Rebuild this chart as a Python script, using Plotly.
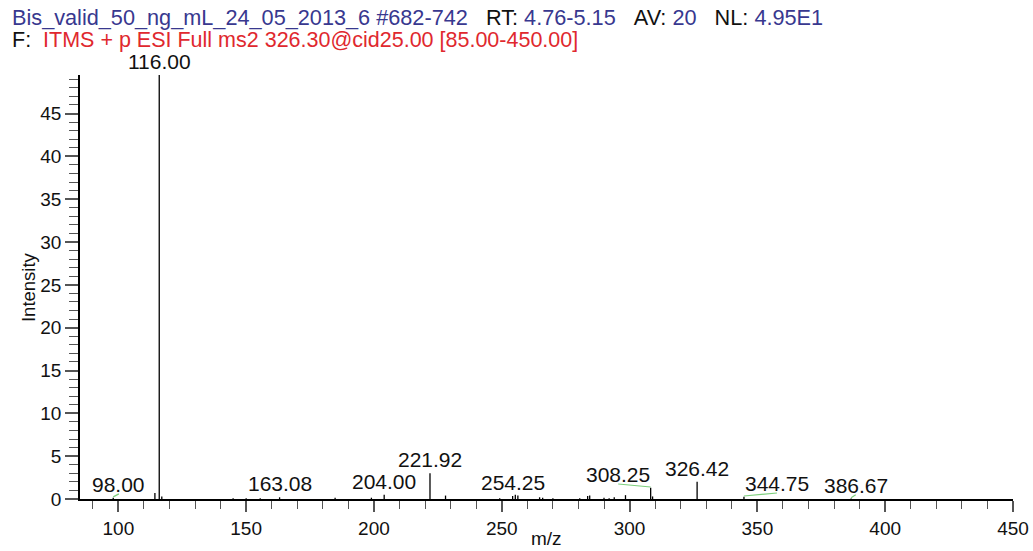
import plotly.graph_objects as go

# ---- data ----
peak_mz = [98.00, 114.3, 116.00, 117.0, 144.9, 150.0, 155.5, 163.08, 184.8, 199.0,
           204.00, 221.92, 228.0, 249.2, 254.25, 255.3, 256.3, 264.8, 266.0, 270.0,
           280.5, 283.6, 284.4, 290.0, 292.0, 294.0, 298.4, 308.25, 309.0, 326.42,
           344.75, 386.67]
peak_int = [0.15, 0.7, 49.5, 0.3, 0.1, 0.1, 0.1, 0.2, 0.15, 0.15,
            0.5, 3.0, 0.4, 0.1, 0.35, 0.5, 0.4, 0.2, 0.15, 0.1,
            0.1, 0.35, 0.4, 0.15, 0.1, 0.2, 0.45, 1.3, 0.3, 2.0,
            0.25, 0.05]

label_mz = [116.00, 98.00, 163.08, 204.00, 221.92, 254.25, 308.25, 326.42, 344.75, 386.67]
label_int = [49.5, 0.15, 0.2, 0.5, 3.0, 0.35, 1.3, 2.0, 0.25, 0.05]
# horizontal shift of the label (m/z units) and whether a green connector is drawn
label_dx = [0, 2.2, 0, 0, 0, 0, -12.7, 0, 12.9, 1.8]
label_link = [False, True, False, False, False, False, True, False, True, True]

x_ticks = [100, 150, 200, 250, 300, 350, 400, 450]
y_ticks = [0, 5, 10, 15, 20, 25, 30, 35, 40, 45]

BLUE = "#38388f"
RED = "#e0282e"
INK = "#111"
header1 = (f'<span style="color:{BLUE}">Bis_valid_50_ng_mL_24_05_2013_6 #682-742</span>'
           f'\u00a0\u00a0\u00a0<span style="color:{INK}">RT:</span> <span style="color:{BLUE}">4.76-5.15</span>'
           f'\u00a0\u00a0\u00a0<span style="color:{INK}">AV:</span> <span style="color:{BLUE}">20</span>'
           f'\u00a0\u00a0\u00a0<span style="color:{INK}">NL:</span> <span style="color:{BLUE}">4.95E1</span>')
header2 = (f'<span style="color:{INK}">F:</span>\u00a0 '
           f'<span style="color:{RED}">ITMS + p ESI Full ms2 326.30@cid25.00 [85.00-450.00]</span>')

FONT = "Liberation Sans, Arial, sans-serif"

fig = go.Figure()

# stick spectrum built from the peak arrays
xs, ys = [], []
for m, i in zip(peak_mz, peak_int):
    xs += [m, m, None]
    ys += [0, i, None]
fig.add_trace(go.Scatter(x=xs, y=ys, mode="lines",
                         line=dict(color="black", width=1.3),
                         hoverinfo="skip", showlegend=False))

# green connectors from shifted labels to their peaks
gx, gy = [], []
for m, i, dx, link in zip(label_mz, label_int, label_dx, label_link):
    if link:
        gx += [m, m + dx, None]
        gy += [i + 0.1, i + 0.45, None]
fig.add_trace(go.Scatter(x=gx, y=gy, mode="lines",
                         line=dict(color="#7ccf7c", width=1.2),
                         hoverinfo="skip", showlegend=False))

annotations = []
for m, i, dx in zip(label_mz, label_int, label_dx):
    annotations.append(dict(x=m + dx, y=i, xref="x", yref="y", text=f"{m:.2f}",
                            showarrow=False, xanchor="center", yanchor="bottom",
                            yshift=0, font=dict(family=FONT, size=21, color=INK)))

annotations.append(dict(x=-0.075, y=1.135, xref="paper", yref="paper", text=header1,
                        showarrow=False, xanchor="left", yanchor="middle",
                        font=dict(family=FONT, size=21.7)))
annotations.append(dict(x=-0.075, y=1.082, xref="paper", yref="paper", text=header2,
                        showarrow=False, xanchor="left", yanchor="middle",
                        font=dict(family=FONT, size=21.5)))
# axis titles
annotations.append(dict(x=0.5, y=-0.1215, xref="paper", yref="paper", text="m/z",
                        showarrow=False, xanchor="center", yanchor="bottom",
                        font=dict(family=FONT, size=19, color=INK)))
annotations.append(dict(x=-0.0557, y=0.5, xref="paper", yref="paper", text="Intensity",
                        showarrow=False, xanchor="center", yanchor="middle", textangle=-90,
                        font=dict(family=FONT, size=18.5, color=INK)))

fig.update_layout(
    width=1033, height=551,
    margin=dict(l=80, r=20, t=75, b=52),
    paper_bgcolor="white", plot_bgcolor="white",
    annotations=annotations,
    font=dict(family=FONT, size=19, color=INK),
)
fig.update_xaxes(range=[85, 450], tickvals=x_ticks, ticks="outside", ticklen=11,
                 tickcolor="#555", tickwidth=1.5, automargin=False,
                 minor=dict(dtick=10, tick0=0, ticks="outside", ticklen=8, tickcolor="#555", tickwidth=1.2),
                 showline=True, linecolor="black", linewidth=1.5, showgrid=False, zeroline=False,
                 tickfont=dict(family=FONT, size=19, color=INK))
fig.update_yaxes(range=[0, 49.5], tickvals=y_ticks, ticks="outside", ticklen=13,
                 tickcolor="#555", tickwidth=1.5, automargin=False,
                 minor=dict(dtick=1, tick0=0, ticks="outside", ticklen=9, tickcolor="#555", tickwidth=1.2),
                 showline=True, linecolor="black", linewidth=1.5, showgrid=False, zeroline=False,
                 tickfont=dict(family=FONT, size=19, color=INK))

fig.write_html("out.html", config={"displayModeBar": False},
               post_script="document.body.style.margin='0';document.body.style.padding='0';")
